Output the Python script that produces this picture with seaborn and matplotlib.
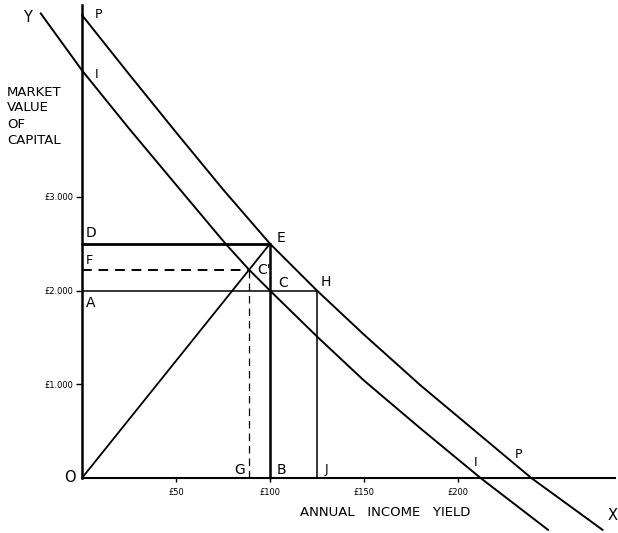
"""
Market value of capital against annual income yield.
Two curves (II and PP) with the construction lines O-E, D-E, A-H, F-C'.
Saves out.png
"""

import matplotlib.pyplot as plt
import seaborn as sns

# curve II: (annual income yield £, market value £)
ii_yield = [-22, 0, 25, 50, 76, 88.9, 100, 125, 150, 180, 212, 248]
ii_value = [4960, 4350, 3730, 3130, 2508, 2222, 2000, 1510, 1040, 530, 0, -555]

# curve PP
pp_yield = [0, 25, 50, 75, 100, 125, 150, 180, 239, 277]
pp_value = [4940, 4310, 3690, 3080, 2500, 2000, 1530, 990, 0, -555]

# named points
e_yield, e_value = 100, 2500      # E (and D, B)
c1_yield, c1_value = 88.9, 2222   # C' (and F, G)
c_yield, c_value = 100, 2000      # C (and A)
h_yield, h_value = 125, 2000      # H (and J)

y_ticks = [1000, 2000, 3000]
y_tick_labels = ["£1.000", "£2.000", "£3.000"]
x_ticks = [50, 100, 150, 200]
x_tick_labels = ["£50", "£100", "£150", "£200"]

W, H = 618, 533

sns.set_theme(style="white")
plt.rcParams["font.family"] = ["DejaVu Sans"]

fig = plt.figure(figsize=(W / 100, H / 100), dpi=100)
ax = fig.add_axes([0, 0, 1, 1])
ax.set_xlim(-82 / 1.88, (W - 82) / 1.88)
ax.set_ylim((478 - H) / 0.0937, 478 / 0.0937)


def seg(xs, ys, lw=1.3, ls="-"):
    sns.lineplot(x=xs, y=ys, ax=ax, color="black", linewidth=lw, linestyle=ls,
                 estimator=None, sort=False, legend=False)


# the two curves
seg(ii_yield, ii_value, lw=1.4)
seg(pp_yield, pp_value, lw=1.4)

# construction lines
seg([0, e_yield], [0, e_value], lw=1.3)                       # O - E
seg([0, e_yield], [e_value, e_value], lw=2.0)                 # D - E
seg([e_yield, e_yield], [0, e_value], lw=1.8)                 # E - B
seg([0, h_yield], [c_value, h_value], lw=1.1)                 # A - H
seg([h_yield, h_yield], [0, h_value], lw=1.1)                 # H - J
seg([0, c1_yield], [c1_value, c1_value], lw=1.4, ls=(0, (5, 3.5)))   # F - C'
seg([c1_yield, c1_yield], [0, c1_value], lw=0.9, ls=(0, (6, 4)))     # C' - G

# axes through the origin
for side in ["top", "right"]:
    ax.spines[side].set_visible(False)
ax.spines["left"].set_position(("data", 0))
ax.spines["bottom"].set_position(("data", 0))
ax.spines["left"].set_bounds(0, 5050)
ax.spines["bottom"].set_bounds(0, (W - 3 - 82) / 1.88)
ax.spines["left"].set_linewidth(1.8)
ax.spines["bottom"].set_linewidth(1.5)
for s in ["left", "bottom"]:
    ax.spines[s].set_color("black")

ax.set_yticks(y_ticks, y_tick_labels)
ax.set_xticks(x_ticks, x_tick_labels)
ax.tick_params(axis="y", direction="out", length=4, width=1, pad=2,
               labelsize=6, left=True, colors="black")
ax.tick_params(axis="x", direction="out", length=3, width=1, pad=4,
               labelsize=6, bottom=True, colors="black")
ax.grid(False)


def label(x, y, s, size=10, ha="center"):
    fig.text(x / W, 1 - y / H, s, ha=ha, va="center", fontsize=size, color="black")


# point letters
label(27, 17, "Y", 10.5)
label(98, 14, "P", 9)
label(97, 74, "I", 9)
label(91, 233, "D")
label(89, 261, "F", 9)
label(91, 303, "A")
label(70, 477, "O", 10.5)
label(281, 238, "E")
label(264, 270, "C'")
label(283, 283, "C")
label(326, 282, "H")
label(240, 470, "G")
label(281, 470, "B")
label(326, 469, "J", 9)
label(476, 462, "I", 9)
label(518, 455, "P", 9)
label(613, 515, "X", 10.5)

# axis titles
for i, word in enumerate(["MARKET", "VALUE", "OF", "CAPITAL"]):
    label(7, 92 + i * 16, word, 9.5, ha="left")
label(385, 513, "ANNUAL   INCOME   YIELD", 9.5)

plt.savefig("out.png", dpi=100)
